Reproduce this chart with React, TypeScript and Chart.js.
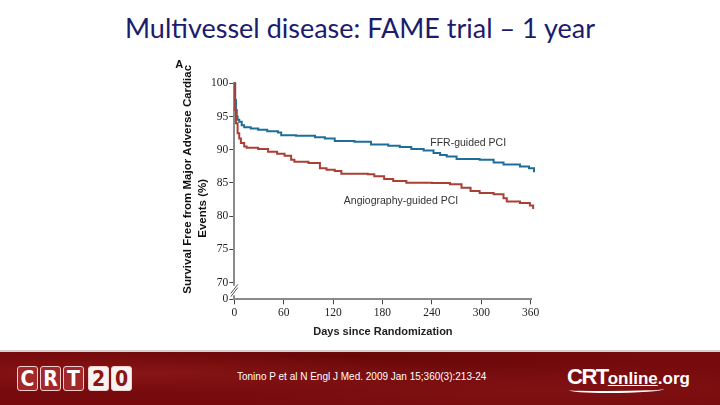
import React, { useEffect, useRef } from 'react';
import { Chart, registerables } from 'chart.js';

Chart.register(...registerables);

const TITLE = 'Multivessel disease: FAME trial – 1 year';
const PANEL_LABEL = 'A';
const Y_TITLE = ['Survival Free from Major Adverse Cardiac', 'Events (%)'];
const X_TITLE = 'Days since Randomization';
const CITATION = 'Tonino P et al N Engl J Med. 2009 Jan 15;360(3):213-24';

const X_TICKS = [0, 60, 120, 180, 240, 300, 360];
const Y_TICKS = [70, 75, 80, 85, 90, 95, 100];
const Y_BREAK_VALUE = 67.5; // axis bottom after the break, labelled "0"
const Y_BREAK_LABEL = '0';

const FFR_LABEL = 'FFR-guided PCI';
const FFR_DAYS = [0, 1, 2, 3, 4, 6, 9, 12, 20, 29, 40, 53, 57, 75, 98, 110, 122, 146, 166, 187, 201, 215, 230, 242, 250, 258, 270, 298, 315, 327, 347, 358, 364, 366];
const FFR_SURVIVAL = [100, 97.5, 96, 95, 94.5, 94.2, 93.7, 93.4, 93.2, 93.0, 92.8, 92.6, 92.2, 92.1, 91.9, 91.7, 91.3, 91.2, 90.8, 90.6, 90.4, 90.1, 89.9, 89.5, 89.2, 89.0, 88.6, 88.5, 88.1, 87.8, 87.5, 87.2, 86.6, 86.6];

const ANGIO_LABEL = 'Angiography-guided PCI';
const ANGIO_DAYS = [0, 1, 2, 4, 6, 8, 12, 15, 29, 41, 52, 61, 69, 73, 90, 104, 112, 122, 130, 162, 170, 182, 193, 209, 240, 262, 276, 287, 298, 315, 327, 331, 347, 359, 363, 366];
const ANGIO_SURVIVAL = [100, 96, 94, 92.5, 91.7, 91.0, 90.5, 90.3, 90.1, 89.7, 89.4, 89.1, 88.5, 88.2, 88.0, 87.2, 87.0, 86.8, 86.4, 86.3, 86.0, 85.6, 85.3, 85.05, 85.0, 84.8, 84.3, 83.8, 83.5, 83.3, 82.7, 82.2, 82.0, 81.6, 81.1, 81.1];

const BLUE = '#1f6e9a';
const RED = '#ab3f35';

const toPoints = (days: number[], vals: number[]) => days.map((d, i) => ({ x: d, y: vals[i] }));

const decorations = {
  id: 'decorations',
  afterDraw(chart: any) {
    const { ctx, chartArea, scales } = chart;
    const xs = scales.x;
    const ys = scales.y;
    const left = chartArea.left;
    ctx.save();
    // axis break
    const yTop = ys.getPixelForValue(70) + 3;
    const yBot = ys.getPixelForValue(Y_BREAK_VALUE) - 4;
    ctx.fillStyle = '#ffffff';
    ctx.fillRect(left - 2, yTop, 4, yBot - yTop);
    ctx.strokeStyle = '#555';
    ctx.lineWidth = 1;
    const mid = (yTop + yBot) / 2;
    for (const d of [-1.6, 1.6]) {
      ctx.beginPath();
      ctx.moveTo(left - 3.5, mid + 4.5 + d);
      ctx.lineTo(left + 3.5, mid - 4.5 + d);
      ctx.stroke();
    }
    // panel letter
    ctx.fillStyle = '#111';
    ctx.font = 'bold 11px "Liberation Sans"';
    ctx.textBaseline = 'middle';
    ctx.textAlign = 'left';
    ctx.fillText(PANEL_LABEL, left - 59, chartArea.top - 18);
    // y-axis title
    ctx.font = 'bold 11.5px "Liberation Sans"';
    ctx.textAlign = 'center';
    ctx.save();
    ctx.translate(left - 46, chartArea.top + 96);
    ctx.rotate(-Math.PI / 2);
    ctx.fillText(Y_TITLE[0], 0, 0);
    ctx.restore();
    ctx.save();
    ctx.translate(left - 31, chartArea.top + 125);
    ctx.rotate(-Math.PI / 2);
    ctx.fillText(Y_TITLE[1], 0, 0);
    ctx.restore();
    // series labels
    ctx.font = '10.5px "Liberation Sans"';
    ctx.fillStyle = '#333';
    ctx.textAlign = 'left';
    ctx.fillText(FFR_LABEL, xs.getPixelForValue(238), ys.getPixelForValue(91.0));
    ctx.fillText(ANGIO_LABEL, xs.getPixelForValue(133), ys.getPixelForValue(82.3));
    ctx.restore();
  },
};

function KMChart() {
  const ref = useRef<HTMLCanvasElement | null>(null);
  useEffect(() => {
    if (!ref.current) return;
    const chart = new Chart(ref.current, {
      type: 'line',
      data: {
        datasets: [
          {
            label: ANGIO_LABEL,
            data: toPoints(ANGIO_DAYS, ANGIO_SURVIVAL),
            borderColor: RED,
            backgroundColor: RED,
            borderWidth: 2,
            pointRadius: 0,
            stepped: true,
            fill: false,
            clip: false as any,
          },
          {
            label: FFR_LABEL,
            data: toPoints(FFR_DAYS, FFR_SURVIVAL),
            borderColor: BLUE,
            backgroundColor: BLUE,
            borderWidth: 2,
            pointRadius: 0,
            stepped: true,
            fill: false,
            clip: false as any,
          },
        ],
      },
      options: {
        responsive: false,
        animation: false,
        events: [],
        layout: { padding: { left: 174.3, right: 188.5, top: 83.3, bottom: 5.7 } },
        plugins: { legend: { display: false }, tooltip: { enabled: false }, title: { display: false } },
        scales: {
          x: {
            type: 'linear',
            min: 0,
            max: 361,
            afterBuildTicks: (s: any) => { s.ticks = X_TICKS.map((v) => ({ value: v })); },
            afterFit: (s: any) => { s.height = 45; },
            ticks: {
              autoSkip: false,
              maxRotation: 0,
              padding: 2,
              color: '#222',
              font: { family: '"Liberation Serif"', size: 11.5 },
            },
            grid: { drawOnChartArea: false, drawTicks: true, tickLength: 5, color: '#444', lineWidth: 1 },
            border: { display: true, color: '#8a8a8a', width: 2 },
            title: {
              display: true,
              text: X_TITLE,
              color: '#222',
              font: { family: '"Liberation Sans"', size: 11, weight: 'bold' },
              padding: { top: 4, bottom: 6 },
            },
          },
          y: {
            type: 'linear',
            min: Y_BREAK_VALUE,
            max: 100,
            afterBuildTicks: (s: any) => { s.ticks = [Y_BREAK_VALUE, ...Y_TICKS].map((v) => ({ value: v })); },
            afterFit: (s: any) => { s.width = 60; },
            ticks: {
              autoSkip: false,
              padding: 1,
              color: '#222',
              font: { family: '"Liberation Serif"', size: 11.5 },
              callback: (v: any) => (v === Y_BREAK_VALUE ? Y_BREAK_LABEL : String(v)),
            },
            grid: { drawOnChartArea: false, drawTicks: true, tickLength: 5, color: '#444', lineWidth: 1 },
            border: { display: true, color: '#8a8a8a', width: 2 },
          },
        },
      } as any,
      plugins: [decorations],
    });
    return () => chart.destroy();
  }, []);
  return <canvas ref={ref} width={720} height={350} style={{ position: 'absolute', left: 0, top: 0, width: 720, height: 350 }} />;
}

function LogoBox({ ch, light }: { ch: string; light: boolean }) {
  return (
    <div
      style={{
        width: 21,
        height: 25,
        marginRight: 2,
        borderRadius: 3,
        border: '1.5px solid #f2cfcf',
        background: light ? '#f7f3f3' : '#a3282a',
        color: light ? '#8e1414' : '#ffffff',
        fontFamily: '"Liberation Sans Narrow", "DejaVu Sans Condensed", "Liberation Sans", sans-serif',
        fontStretch: 'condensed',
        fontWeight: 700,
        fontSize: 21,
        lineHeight: '25px',
        textAlign: 'center',
        boxSizing: 'border-box',
      }}
    >
      {ch}
    </div>
  );
}

export default function App() {
  useEffect(() => {
    document.body.style.margin = '0';
  }, []);
  return (
    <div style={{ position: 'absolute', left: 0, top: 0, width: 720, height: 405, background: '#ffffff', overflow: 'hidden' }}>
      <div
        style={{
          position: 'absolute',
          left: 0,
          top: 11,
          width: 720,
          textAlign: 'center',
          fontFamily: 'Lato, "Open Sans", sans-serif',
          fontSize: 27,
          lineHeight: '34px',
          color: '#1c1c6c',
          whiteSpace: 'nowrap',
        }}
      >
        {TITLE}
      </div>
      <KMChart />
      <div style={{ position: 'absolute', left: 0, top: 350, width: 720, height: 2, background: '#d6d0d0' }} />
      <div
        style={{
          position: 'absolute',
          left: 0,
          top: 352,
          width: 720,
          height: 53,
          background:
            'radial-gradient(ellipse at 20% 40%, rgba(150,30,30,0.55), rgba(0,0,0,0) 45%), radial-gradient(ellipse at 75% 70%, rgba(140,25,25,0.5), rgba(0,0,0,0) 50%), radial-gradient(ellipse at 50% 10%, rgba(90,5,5,0.5), rgba(0,0,0,0) 55%), #760a0c',
        }}
      >
        <div style={{ position: 'absolute', left: 17, top: 14, display: 'flex' }}>
          {['C', 'R', 'T'].map((c) => (
            <LogoBox key={c} ch={c} light={false} />
          ))}
          <div style={{ width: 2 }} />
          {['2', '0'].map((c) => (
            <LogoBox key={c} ch={c} light={true} />
          ))}
        </div>
        <div
          style={{
            position: 'absolute',
            left: 237,
            top: 18,
            fontFamily: '"Liberation Sans", sans-serif',
            fontSize: 10,
            lineHeight: '14px',
            color: '#ffffff',
            whiteSpace: 'nowrap',
          }}
        >
          {CITATION}
        </div>
        <div
          style={{
            position: 'absolute',
            left: 567,
            top: 14,
            fontFamily: '"Liberation Sans", sans-serif',
            fontWeight: 700,
            color: '#ffffff',
            whiteSpace: 'nowrap',
            lineHeight: '22px',
          }}
        >
          <span style={{ fontSize: 22, letterSpacing: -1.5 }}>CRT</span>
          <span style={{ fontSize: 17, textDecoration: 'underline' }}>online</span>
          <span style={{ fontSize: 17 }}>.org</span>
          <div style={{ position: 'absolute', left: 2, top: 20, width: 95, height: 5, borderBottom: '2px solid #ffffff', borderRadius: '0 0 60% 40%' }} />
        </div>
      </div>
    </div>
  );
}
